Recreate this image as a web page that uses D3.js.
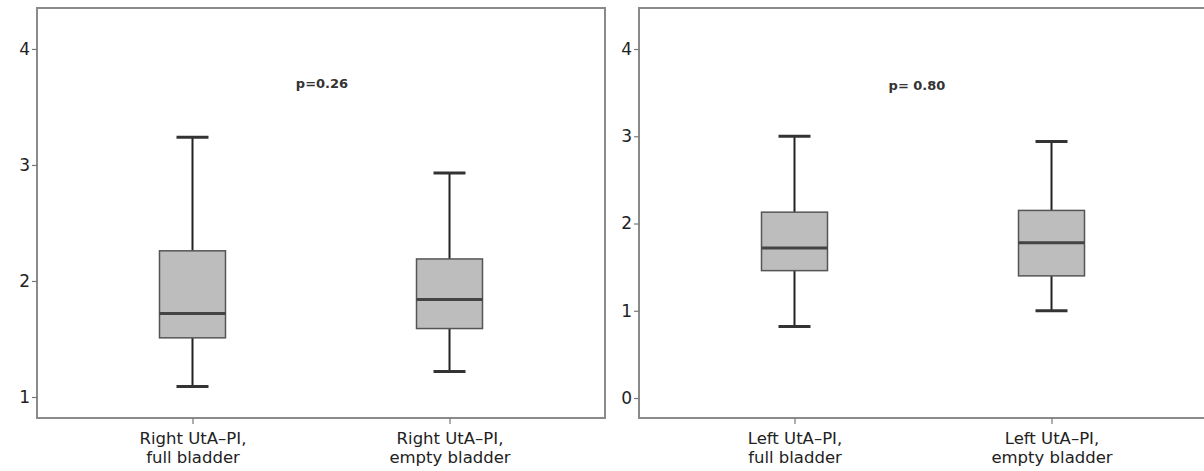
<!DOCTYPE html>
<html>
<head>
<meta charset="utf-8">
<script src="https://cdn.jsdelivr.net/npm/d3@7"></script>
<style>
  body { margin: 0; background: #fff; }
  svg text { font-family: "DejaVu Sans", sans-serif; }
</style>
</head>
<body>
<div id="plot"></div>
<script>
// Right panel data
const rightCats = ["Right UtA\u2013PI,|full bladder", "Right UtA\u2013PI,|empty bladder"];
const rightMin = [1.09, 1.22];
const rightQ1 = [1.51, 1.59];
const rightMed = [1.72, 1.84];
const rightQ3 = [2.26, 2.19];
const rightMax = [3.24, 2.93];
const rightTicks = [1, 2, 3, 4];
const rightP = "p=0.26";

// Left panel data
const leftCats = ["Left UtA\u2013PI,|full bladder", "Left UtA\u2013PI,|empty bladder"];
const leftMin = [0.82, 1.0];
const leftQ1 = [1.46, 1.40];
const leftMed = [1.72, 1.78];
const leftQ3 = [2.13, 2.15];
const leftMax = [3.0, 2.94];
const leftTicks = [0, 1, 2, 3, 4];
const leftP = "p= 0.80";

const W = 1204, H = 471;
const svg = d3.select("#plot").append("svg")
  .attr("width", W).attr("height", H);

function drawPanel(opts) {
  const w = 568, h = 410;
  const g = svg.append("g").attr("transform", `translate(${opts.left},${opts.top})`);

  const x = d3.scalePoint().domain(opts.cats).range([0, w]).padding(0.605);
  const y = d3.scaleLinear().domain(opts.ydom).range([h, 0]);

  const rows = opts.cats.map((c, i) => ({
    cat: c, min: opts.min[i], q1: opts.q1[i], med: opts.med[i], q3: opts.q3[i], max: opts.max[i]
  }));

  // frame (right panel runs off the edge)
  g.append("rect")
    .attr("x", 0).attr("y", 0).attr("width", opts.frameW).attr("height", h)
    .attr("fill", "none").attr("stroke", "#8a8a8a").attr("stroke-width", 2);

  // y axis
  const ya = g.append("g").call(d3.axisLeft(y).tickValues(opts.ticks).tickFormat(d3.format("d")).tickSize(5).tickPadding(2));
  ya.select(".domain").remove();
  ya.selectAll(".tick line").attr("stroke", "#777").attr("stroke-width", 1.2);
  ya.selectAll(".tick text").attr("font-size", 17).attr("fill", "#222");

  // x axis
  const xa = g.append("g").attr("transform", `translate(0,${h})`)
    .call(d3.axisBottom(x).tickSize(6).tickFormat(""));
  xa.select(".domain").remove();
  xa.selectAll(".tick line").attr("stroke", "#777").attr("stroke-width", 1.2);
  xa.selectAll(".tick").each(function(d) {
    const lines = d.split("|");
    const t = d3.select(this).append("text")
      .attr("fill", "#222").attr("font-size", 16.5).attr("text-anchor", "middle");
    lines.forEach((s, k) => {
      t.append("tspan").attr("x", 0).attr("y", 26 + k * 19).text(s);
    });
  });

  const bw = 66, cw = 32;
  const box = g.selectAll(".box").data(rows).join("g").attr("class", "box");

  box.append("line")
    .attr("x1", d => x(d.cat)).attr("x2", d => x(d.cat))
    .attr("y1", d => y(d.max)).attr("y2", d => y(d.q3))
    .attr("stroke", "#222").attr("stroke-width", 2);
  box.append("line")
    .attr("x1", d => x(d.cat)).attr("x2", d => x(d.cat))
    .attr("y1", d => y(d.q1)).attr("y2", d => y(d.min))
    .attr("stroke", "#222").attr("stroke-width", 2);
  box.append("line")
    .attr("x1", d => x(d.cat) - cw / 2).attr("x2", d => x(d.cat) + cw / 2)
    .attr("y1", d => y(d.max)).attr("y2", d => y(d.max))
    .attr("stroke", "#333").attr("stroke-width", 3);
  box.append("line")
    .attr("x1", d => x(d.cat) - cw / 2).attr("x2", d => x(d.cat) + cw / 2)
    .attr("y1", d => y(d.min)).attr("y2", d => y(d.min))
    .attr("stroke", "#333").attr("stroke-width", 3);
  box.append("rect")
    .attr("x", d => x(d.cat) - bw / 2).attr("width", bw)
    .attr("y", d => y(d.q3)).attr("height", d => y(d.q1) - y(d.q3))
    .attr("fill", "#bdbdbd").attr("stroke", "#555").attr("stroke-width", 1.5);
  box.append("line")
    .attr("x1", d => x(d.cat) - bw / 2).attr("x2", d => x(d.cat) + bw / 2)
    .attr("y1", d => y(d.med)).attr("y2", d => y(d.med))
    .attr("stroke", "#444").attr("stroke-width", 3);

  // p value
  g.append("text")
    .attr("x", opts.px).attr("y", y(opts.py))
    .attr("text-anchor", "middle").attr("font-size", 13).attr("font-weight", "bold")
    .attr("fill", "#333").text(opts.p);
}

drawPanel({
  left: 37, top: 8, frameW: 568, cats: rightCats, min: rightMin, q1: rightQ1, med: rightMed,
  q3: rightQ3, max: rightMax, ticks: rightTicks, ydom: [0.819, 4.353], p: rightP, px: 285, py: 3.66
});
drawPanel({
  left: 639, top: 8, frameW: 580, cats: leftCats, min: leftMin, q1: leftQ1, med: leftMed,
  q3: leftQ3, max: leftMax, ticks: leftTicks, ydom: [-0.229, 4.47], p: leftP, px: 278, py: 3.53
});
</script>
</body>
</html>
